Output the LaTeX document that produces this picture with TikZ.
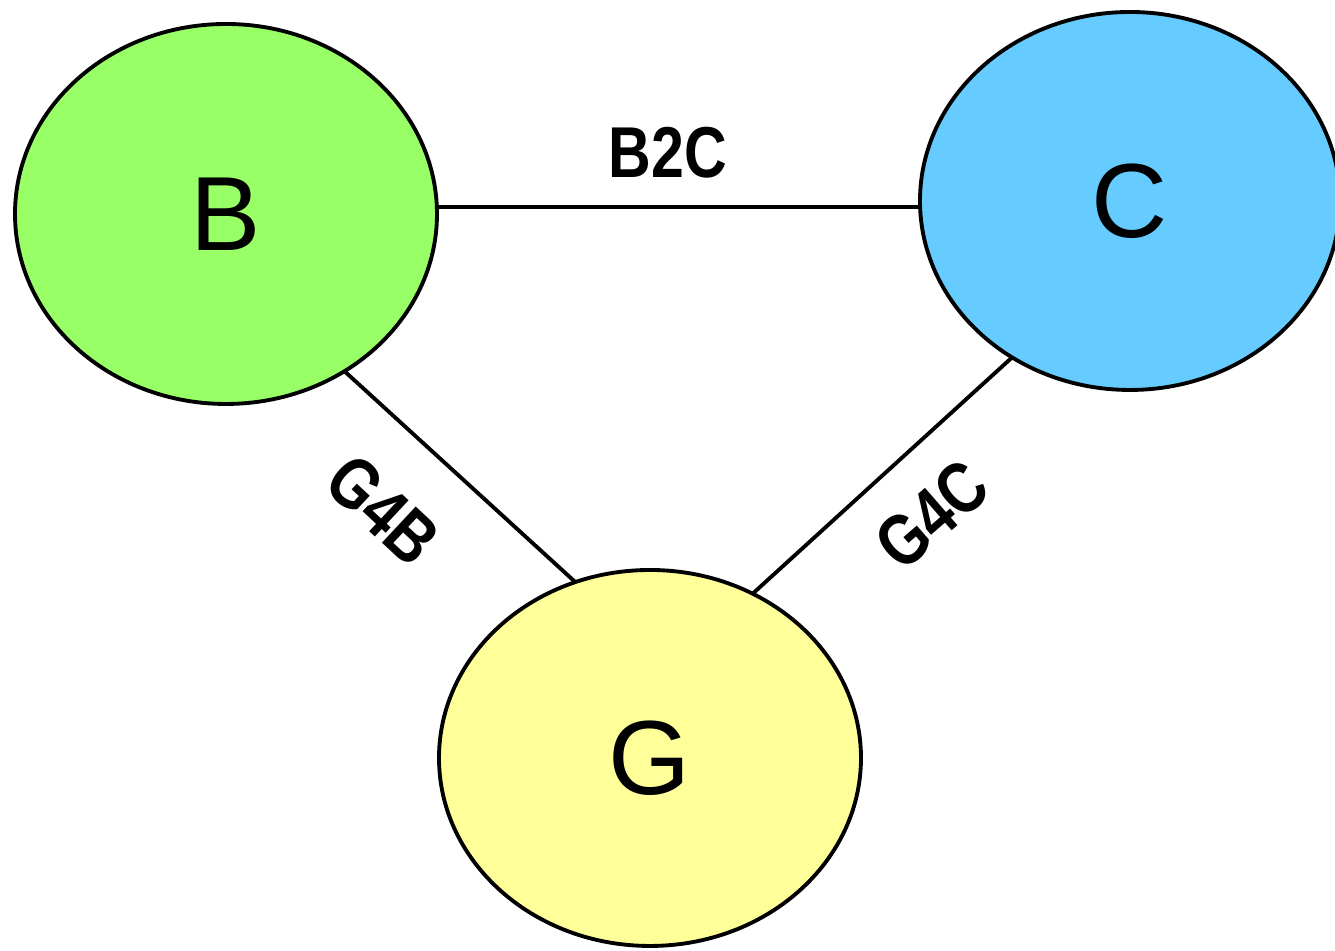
\documentclass[tikz,border=0pt]{standalone}
\usepackage{fontspec}
\setmainfont{Liberation Sans}
\usetikzlibrary{shapes.geometric}
\definecolor{bgreen}{HTML}{99FF66}
\definecolor{cblue}{HTML}{66CCFF}
\definecolor{gyellow}{HTML}{FFFF99}
\newcommand\narrowtxt[1]{\scalebox{0.82}[1]{#1}}
\tikzset{
  blob/.style={ellipse, draw=black, line width=1.1pt, inner sep=0pt, outer sep=0pt,
    minimum width=4.22cm, minimum height=3.80cm, font=\fontsize{30}{36}\selectfont},
  link/.style={draw=black, line width=1.1pt},
  lbl/.style={font=\fontsize{20.5}{25}\selectfont\bfseries, inner sep=0pt}
}
\begin{document}
\begin{tikzpicture}
\useasboundingbox (0,0) rectangle (13.35,9.51);
\node[blob, fill=bgreen] (B) at (2.26,7.37) {B};
\node[blob, fill=cblue, minimum width=4.20cm, minimum height=3.78cm] (C) at (11.30,7.50) {C};
\node[blob, fill=gyellow, minimum height=3.76cm] (G) at (6.50,1.93) {G};
\coordinate (bc) at ([yshift=0.07cm]B.east);
\draw[link] (bc) -- (bc -| C.west);
\draw[link] (B.-53) -- (G.113.7);
\draw[link] (C.233.5) -- (G.58.8);
\node[lbl] (lb2c) at (6.68,7.98) {\narrowtxt{B2C}};
\node[lbl, rotate=-43] (lg4b) at (3.83,4.41) {\narrowtxt{G4B}};
\node[lbl, rotate=41] (lg4c) at (9.32,4.36) {\narrowtxt{G4C}};
\end{tikzpicture}
\end{document}
